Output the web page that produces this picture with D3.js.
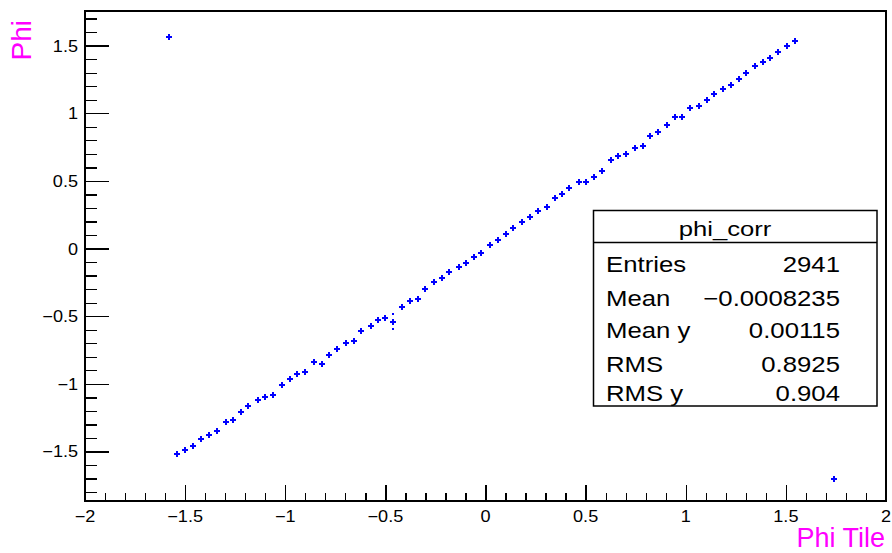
<!DOCTYPE html>
<html>
<head>
<meta charset="utf-8">
<script src="https://cdn.jsdelivr.net/npm/d3@7"></script>
<style>
  html, body { margin: 0; padding: 0; background: #fff; }
  svg { display: block; }
  text { font-family: "Liberation Sans", Arial, Helvetica, sans-serif; }
</style>
</head>
<body>
<svg id="chart" width="892" height="553"></svg>
<script>
// ---------------- data ----------------
const phiTile = [
  -1.541, -1.502, -1.459, -1.419, -1.381, -1.342, -1.297, -1.259, -1.221, -1.185,
  -1.138, -1.100, -1.061, -1.015, -0.978, -0.940, -0.903, -0.858, -0.818, -0.782,
  -0.743, -0.698, -0.658, -0.620, -0.573, -0.537, -0.500, -0.462, -0.415, -0.377,
  -0.339, -0.302, -0.256, -0.219, -0.181, -0.134, -0.096, -0.057, -0.020, 0.024,
  0.064, 0.101, 0.139, 0.184, 0.222, 0.261, 0.306, 0.346, 0.382, 0.419,
  0.465, 0.503, 0.542, 0.580, 0.625, 0.662, 0.700, 0.746, 0.785, 0.823,
  0.860, 0.906, 0.945, 0.983, 1.021, 1.066, 1.105, 1.143, 1.188, 1.226,
  1.264, 1.301, 1.347, 1.384, 1.422, 1.461, 1.506, 1.544,
  -1.581, 1.740
];
const phi = [
  -1.518, -1.491, -1.459, -1.405, -1.375, -1.350, -1.279, -1.265, -1.208, -1.163,
  -1.121, -1.095, -1.080, -1.008, -0.966, -0.925, -0.910, -0.838, -0.855, -0.784,
  -0.740, -0.698, -0.681, -0.611, -0.572, -0.528, -0.513, -0.543, -0.429, -0.387,
  -0.372, -0.301, -0.247, -0.220, -0.175, -0.134, -0.104, -0.062, -0.035, 0.024,
  0.066, 0.108, 0.150, 0.194, 0.236, 0.278, 0.307, 0.376, 0.404, 0.450,
  0.490, 0.490, 0.531, 0.576, 0.657, 0.684, 0.699, 0.746, 0.761, 0.830,
  0.862, 0.914, 0.970, 0.970, 1.041, 1.054, 1.098, 1.143, 1.182, 1.211,
  1.253, 1.296, 1.352, 1.379, 1.409, 1.451, 1.495, 1.534,
  1.564, -1.705
];
// sparse bins drawn as small dots
const sparseTile = [-0.462, -0.462];
const sparsePhi = [-0.483, -0.597];

const xTickValues = [-2, -1.5, -1, -0.5, 0, 0.5, 1, 1.5, 2];
const xTickLabels = ["\u22122", "\u22121.5", "\u22121", "\u22120.5", "0", "0.5", "1", "1.5", "2"];
const yTickValues = [-1.5, -1, -0.5, 0, 0.5, 1, 1.5];
const yTickLabels = ["\u22121.5", "\u22121", "\u22120.5", "0", "0.5", "1", "1.5"];

const statNames = ["Entries", "Mean", "Mean y", "RMS", "RMS y"];
const statValues = ["2941", "\u22120.0008235", "0.00115", "0.8925", "0.904"];
const histName = "phi_corr";
const xTitle = "Phi Tile";
const yTitle = "Phi";

// ---------------- layout ----------------
const L = 85, R = 886, T = 11, B = 501;
const x = d3.scaleLinear().domain([-2, 2]).range([L, R]);
const y = d3.scaleLinear().domain([-1.866, 1.756]).range([B, T]);

const svg = d3.select("#chart");
const STRETCH = 1.13;

function stext(g, px, py, str, size, anchor, sx, fill) {
  g.append("text")
    .attr("transform", `translate(${px},${py}) scale(${sx},1)`)
    .attr("text-anchor", anchor)
    .attr("font-size", size)
    .attr("fill", fill || "#000")
    .text(str);
}

// minor ticks
const minorX = d3.range(-20, 21).map(d => d / 10).filter(v => !xTickValues.some(m => Math.abs(m - v) < 1e-9));
const minorY = d3.range(-18, 18).map(d => d / 10).filter(v => v >= -1.866 && v <= 1.756 && !yTickValues.some(m => Math.abs(m - v) < 1e-9));

const axes = svg.append("g").attr("shape-rendering", "crispEdges");

axes.append("g").attr("transform", `translate(0,${B})`)
  .call(d3.axisBottom(x).tickValues(xTickValues).tickSize(-16).tickFormat(""))
  .call(g => g.select(".domain").remove());
axes.append("g").attr("transform", `translate(0,${B})`)
  .call(d3.axisBottom(x).tickValues(minorX).tickSize(-8).tickFormat(""))
  .call(g => g.select(".domain").remove());
axes.append("g").attr("transform", `translate(${L},0)`)
  .call(d3.axisLeft(y).tickValues(yTickValues).tickSize(-24).tickFormat(""))
  .call(g => g.select(".domain").remove());
axes.append("g").attr("transform", `translate(${L},0)`)
  .call(d3.axisLeft(y).tickValues(minorY).tickSize(-12).tickFormat(""))
  .call(g => g.select(".domain").remove());
axes.selectAll(".tick line").attr("stroke", "#000").attr("stroke-width", 1.3);

// frame
svg.append("rect")
  .attr("x", L).attr("y", T).attr("width", R - L).attr("height", B - T)
  .attr("fill", "none").attr("stroke", "#000").attr("stroke-width", 1.3)
  .attr("shape-rendering", "crispEdges");

// tick labels
const labels = svg.append("g").attr("fill", "#000");
xTickValues.forEach((v, i) => stext(labels, x(v), 522, xTickLabels[i], 16, "middle", STRETCH));
yTickValues.forEach((v, i) => stext(labels, 78, y(v) + 6, yTickLabels[i], 16, "end", STRETCH));

// axis titles
svg.append("text")
  .attr("x", 885).attr("y", 547)
  .attr("text-anchor", "end").attr("font-size", 27).attr("fill", "#ff00ff")
  .text(xTitle);
svg.append("text")
  .attr("transform", "translate(31,20) rotate(-90)")
  .attr("text-anchor", "end").attr("font-size", 28).attr("fill", "#ff00ff")
  .text(yTitle);

// points
const pts = svg.append("g").attr("shape-rendering", "crispEdges");
pts.selectAll("path.m").data(phiTile.map((v, i) => [v, phi[i]]))
  .join("path").attr("class", "m")
  .attr("d", d => {
    const cx = Math.round(x(d[0])), cy = Math.round(y(d[1]));
    return `M${cx - 3},${cy}H${cx + 3}M${cx},${cy - 3}V${cy + 3}`;
  })
  .attr("stroke", "#0000ff").attr("stroke-width", 2).attr("fill", "none");
pts.selectAll("rect.s").data(sparseTile.map((v, i) => [v, sparsePhi[i]]))
  .join("rect").attr("class", "s")
  .attr("x", d => Math.round(x(d[0])) - 1).attr("y", d => Math.round(y(d[1])) - 1)
  .attr("width", 2).attr("height", 2).attr("fill", "#0000ff");

// stats box
const bx = 593.5, by = 210.5, bw = 283.5, bh = 195.5, sepY = 242.5;
const box = svg.append("g");
box.append("rect").attr("x", bx).attr("y", by).attr("width", bw).attr("height", bh)
  .attr("fill", "#fff").attr("stroke", "#000").attr("stroke-width", 1.5);
box.append("line").attr("x1", bx).attr("x2", bx + bw).attr("y1", sepY).attr("y2", sepY)
  .attr("stroke", "#000").attr("stroke-width", 1.5);
stext(box, 725, 236, histName, 21, "middle", 1.22);
const rowBase = [271.5, 305.5, 337.5, 371.5, 401];
statNames.forEach((n, i) => {
  stext(box, 606, rowBase[i], n, 22, "start", 1.17);
  stext(box, 840, rowBase[i], statValues[i], 22, "end", 1.17);
});
</script>
</body>
</html>
